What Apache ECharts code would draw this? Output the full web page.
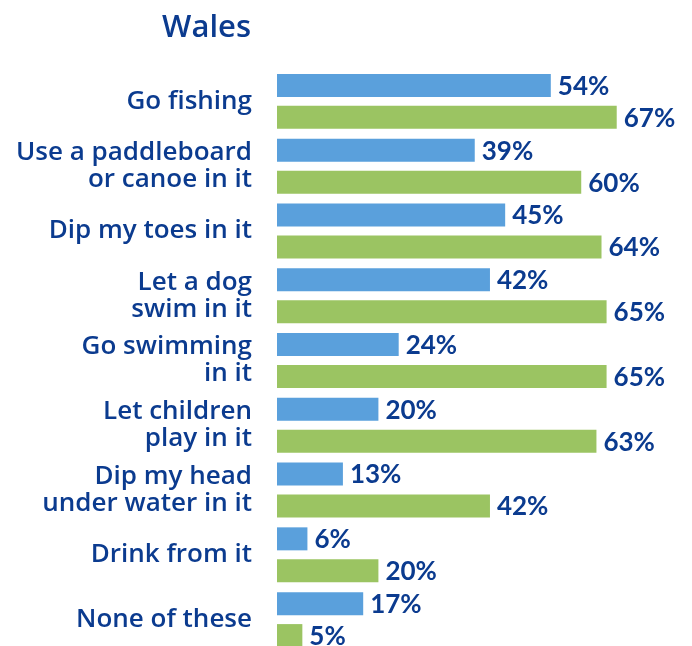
<!DOCTYPE html>
<html>
<head>
<meta charset="utf-8">
<script src="https://cdn.jsdelivr.net/npm/echarts@6/dist/echarts.min.js"></script>
<style>
  html, body { margin: 0; padding: 0; background: #ffffff; }
  #chart { width: 692px; height: 646px; }
</style>
</head>
<body>
<div id="chart"></div>
<script>
// Activities people would do in local rivers and lakes, Wales
const categories = [
  'Go fishing',
  'Use a paddleboard\nor canoe in it',
  'Dip my toes in it',
  'Let a dog\nswim in it',
  'Go swimming\nin it',
  'Let children\nplay in it',
  'Dip my head\nunder water in it',
  'Drink from it',
  'None of these'
];
const blueValues = [54, 39, 45, 42, 24, 20, 13, 6, 17];
const greenValues = [67, 60, 64, 65, 65, 63, 42, 20, 5];

const TEXT = '#0b3b8f';
const BLUE = '#5aa0dc';
const GREEN = '#9bc462';
const FONT = '"Open Sans", "Noto Sans", sans-serif';
const VALUE_FONT = 'Lato, "Open Sans", sans-serif';

const chart = echarts.init(document.getElementById('chart'), null, { renderer: 'canvas' });

const valueLabel = {
  show: true,
  position: 'right',
  distance: 7,
  offset: [0, 1],
  color: TEXT,
  fontFamily: VALUE_FONT,
  fontWeight: 'bold',
  fontSize: 26,
  formatter: p => p.value + '%'
};

chart.setOption({
  animation: false,
  title: {
    text: 'Wales',
    right: 436,
    top: 8,
    textStyle: { color: TEXT, fontFamily: FONT, fontWeight: 600, fontSize: 31 }
  },
  grid: { left: 277, top: 69, width: 395.5, height: 583, outerBoundsMode: 'none' },
  xAxis: {
    type: 'value',
    min: 0,
    max: 78,
    show: false
  },
  yAxis: {
    type: 'category',
    inverse: true,
    data: categories,
    axisLine: { show: false },
    axisTick: { show: false },
    splitLine: { show: false },
    axisLabel: {
      margin: 25,
      color: TEXT,
      fontFamily: FONT,
      fontWeight: 600,
      fontSize: 26,
      lineHeight: 27,
      align: 'right'
    }
  },
  series: [
    {
      type: 'bar',
      data: blueValues,
      barWidth: 23,
      barGap: '39%',
      itemStyle: { color: BLUE },
      label: valueLabel
    },
    {
      type: 'bar',
      data: greenValues,
      barWidth: 23,
      barGap: '39%',
      itemStyle: { color: GREEN },
      label: valueLabel
    }
  ]
});
</script>
</body>
</html>
